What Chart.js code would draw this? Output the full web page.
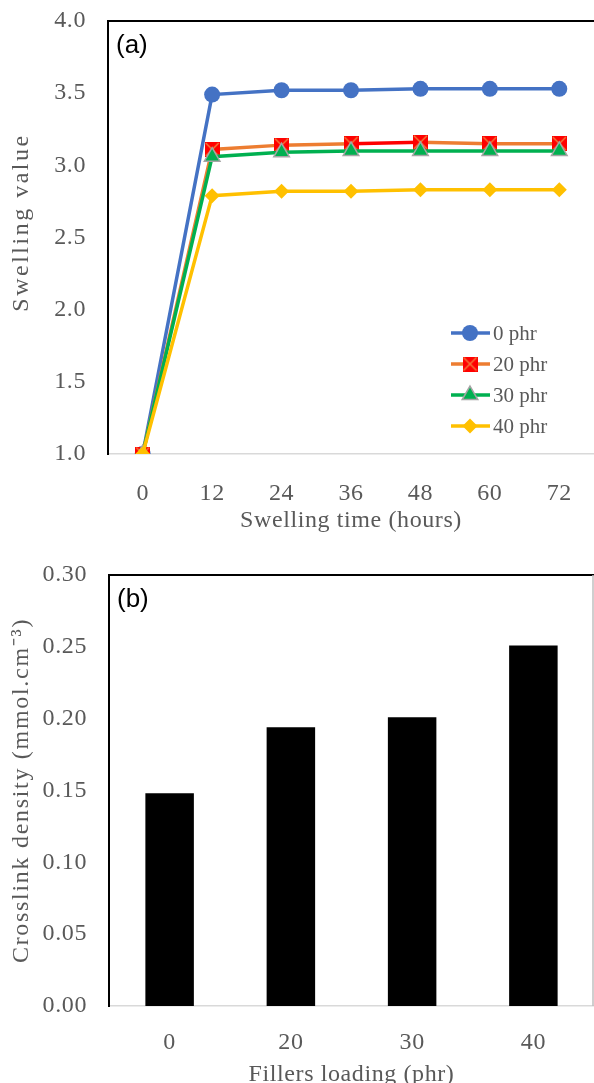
<!DOCTYPE html>
<html>
<head>
<meta charset="utf-8">
<script src="https://cdn.jsdelivr.net/npm/chart.js@4.4.0/dist/chart.umd.min.js"></script>
<style>
  html, body { margin: 0; padding: 0; background: #fff; overflow: hidden; }
  #top { position: absolute; left: 0; top: 0; }
  #bottom { position: absolute; left: 0; top: 540px; }
</style>
</head>
<body>
<canvas id="top" width="594" height="540"></canvas>
<canvas id="bottom" width="594" height="560"></canvas>
<script>
// swelling data (panel a)
const hours = ["0", "12", "24", "36", "48", "60", "72"];
const seriesNames = ["0 phr", "20 phr", "30 phr", "40 phr"];
const swell0 = [1.00, 3.49, 3.52, 3.52, 3.53, 3.53, 3.53];
const swell20 = [1.00, 3.11, 3.14, 3.15, 3.16, 3.15, 3.15];
const swell30 = [1.00, 3.06, 3.09, 3.10, 3.10, 3.10, 3.10];
const swell40 = [1.00, 2.79, 2.82, 2.82, 2.83, 2.83, 2.83];

// crosslink density (panel b)
const loadings = ["0", "20", "30", "40"];
const crosslink = [0.148, 0.194, 0.201, 0.251];

const GREY = "#595959";
const SERIF = '"Liberation Serif", "Times New Roman", serif';
Chart.defaults.font.family = SERIF;
Chart.defaults.color = GREY;

// red square with orange cross, like the excel marker
const redMark = document.createElement("canvas");
redMark.width = 15; redMark.height = 15;
const rc = redMark.getContext("2d");
rc.fillStyle = "#ff0000";
rc.fillRect(0, 0, 15, 15);
rc.strokeStyle = "#f0883e";
rc.lineWidth = 1.3;
rc.beginPath();
rc.moveTo(1, 1); rc.lineTo(14, 14);
rc.moveTo(14, 1); rc.lineTo(1, 14);
rc.stroke();

function lineSet(label, data, color, style, radius, bg, border, bw, order) {
  return {
    label, data, order,
    borderColor: color,
    borderWidth: 3.5,
    pointStyle: style,
    pointRadius: radius,
    pointBackgroundColor: bg,
    pointBorderColor: border,
    pointBorderWidth: bw,
    tension: 0,
  };
}

// excel-ish wide text
const spacing = {
  id: "spacing",
  beforeLayout(chart) { chart.ctx.letterSpacing = "0.6px"; },
  beforeDraw(chart) { chart.ctx.letterSpacing = "0.6px"; },
};

// keep the plot box where I put it, and stretch the y title a bit
function fitY(width, titleSpacing, dy) {
  return s => {
    s.width = width;
    s.paddingTop = 0;
    s.paddingBottom = 0;
    if (!s._patched) {
      const orig = s.drawTitle.bind(s);
      s.drawTitle = () => {
        const c = s.ctx;
        c.save();
        c.letterSpacing = titleSpacing + "px";
        c.translate(0, dy);
        orig();
        c.restore();
      };
      s._patched = true;
    }
  };
}
function fitX(height) {
  return s => {
    s.height = height;
    s.paddingLeft = 0;
    s.paddingRight = 0;
  };
}

const frame = {
  id: "frame",
  afterDraw(chart, args, opts) {
    const { ctx, chartArea: a } = chart;
    ctx.save();
    ctx.strokeStyle = "#000";
    ctx.lineWidth = 2;
    ctx.beginPath();
    ctx.moveTo(a.left - 1, a.top);
    ctx.lineTo(a.right, a.top);
    ctx.stroke();
    if (opts.right) {
      ctx.strokeStyle = "#bfbfbf";
      ctx.lineWidth = 1.5;
      ctx.beginPath();
      ctx.moveTo(a.right - 1, a.top);
      ctx.lineTo(a.right - 1, a.bottom);
      ctx.stroke();
    }
    ctx.letterSpacing = "0px";
    ctx.fillStyle = "#000";
    ctx.font = '26px "Liberation Sans", Arial, sans-serif';
    ctx.textBaseline = "middle";
    ctx.fillText(opts.tag, a.left + 8, a.top + 25);
    ctx.restore();
  }
};

const swellLegend = {
  id: "swellLegend",
  afterDraw(chart) {
    const ctx = chart.ctx;
    chart.data.datasets.forEach((ds, i) => {
      const y = 333 + i * 31;
      ctx.save();
      ctx.letterSpacing = "0px";
      ctx.strokeStyle = ds.borderColor;
      ctx.lineWidth = 3.5;
      ctx.beginPath();
      ctx.moveTo(451, y);
      ctx.lineTo(490, y);
      ctx.stroke();
      ctx.fillStyle = ds.pointBackgroundColor;
      ctx.strokeStyle = ds.pointBorderColor;
      ctx.lineWidth = ds.pointBorderWidth;
      Chart.helpers.drawPoint(ctx, { pointStyle: ds.pointStyle, radius: ds.pointRadius, rotation: 0, borderWidth: ds.pointBorderWidth }, 470, y);
      ctx.fillStyle = GREY;
      ctx.font = "21px " + SERIF;
      ctx.textBaseline = "middle";
      ctx.fillText(ds.label, 493, y + 1);
      ctx.restore();
    });
  }
};

const red20 = lineSet(seriesNames[1], swell20, "#ed7d31", redMark, 8, "#ff0000", "#ff0000", 0, 3);
red20.segment = { borderColor: c => c.p0DataIndex === 3 ? "#ff0000" : undefined };

new Chart(document.getElementById("top"), {
  type: "line",
  data: {
    labels: hours,
    datasets: [
      lineSet(seriesNames[0], swell0, "#4472c4", "circle", 8, "#4472c4", "#4472c4", 0, 4),
      red20,
      lineSet(seriesNames[2], swell30, "#00b050", "triangle", 9, "#00b050", "#a5a5a5", 1.5, 2),
      lineSet(seriesNames[3], swell40, "#ffc000", "rectRot", 7.5, "#ffc000", "#ffc000", 0, 1),
    ]
  },
  options: {
    responsive: false,
    animation: false,
    events: [],
    layout: { autoPadding: false, padding: { top: 21, left: 0, right: 0, bottom: 0 } },
    plugins: { legend: { display: false }, tooltip: { enabled: false }, frame: { tag: "(a)" } },
    scales: {
      x: {
        offset: true,
        grid: { display: false, drawTicks: false },
        border: { color: "#d9d9d9", width: 1.5 },
        ticks: { padding: 25, font: { size: 24 }, color: GREY },
        title: { display: true, text: "Swelling time (hours)", font: { size: 24 }, color: GREY, padding: { top: 0, bottom: 5 } },
        afterFit: fitX(86),
      },
      y: {
        min: 1, max: 4,
        grid: { display: false, drawTicks: false },
        border: { color: "#000", width: 2 },
        ticks: { stepSize: 0.5, padding: 22, font: { size: 24 }, color: GREY, callback: v => v.toFixed(1) },
        title: { display: true, text: "Swelling value", font: { size: 24 }, color: GREY, padding: { top: 7, bottom: 0 } },
        afterFit: fitY(108, 2.5, -15),
      }
    }
  },
  plugins: [spacing, frame, swellLegend]
});

new Chart(document.getElementById("bottom"), {
  type: "bar",
  data: {
    labels: loadings,
    datasets: [{
      data: crosslink,
      backgroundColor: "#000",
      barPercentage: 0.4,
      categoryPercentage: 1,
    }]
  },
  options: {
    responsive: false,
    animation: false,
    events: [],
    layout: { autoPadding: false, padding: { top: 35, left: 0, right: 0, bottom: 0 } },
    plugins: { legend: { display: false }, tooltip: { enabled: false }, frame: { tag: "(b)", right: true } },
    scales: {
      x: {
        grid: { display: false, drawTicks: false },
        border: { color: "#d9d9d9", width: 1.5 },
        ticks: { padding: 22, font: { size: 24 }, color: GREY },
        title: { display: true, text: "Fillers loading (phr)", font: { size: 24 }, color: GREY, padding: { top: 0, bottom: 11 } },
        afterFit: fitX(94),
      },
      y: {
        min: 0, max: 0.3,
        grid: { display: false, drawTicks: false },
        border: { color: "#000", width: 2 },
        ticks: { stepSize: 0.05, padding: 22, font: { size: 24 }, color: GREY, callback: v => v.toFixed(2) },
        title: { display: true, text: "Crosslink density (mmol.cm\u207B\u00B3)", font: { size: 24 }, color: GREY, padding: { top: 7, bottom: 0 } },
        afterFit: fitY(109, 1.7, 0),
      }
    }
  },
  plugins: [spacing, frame]
});
</script>
</body>
</html>
